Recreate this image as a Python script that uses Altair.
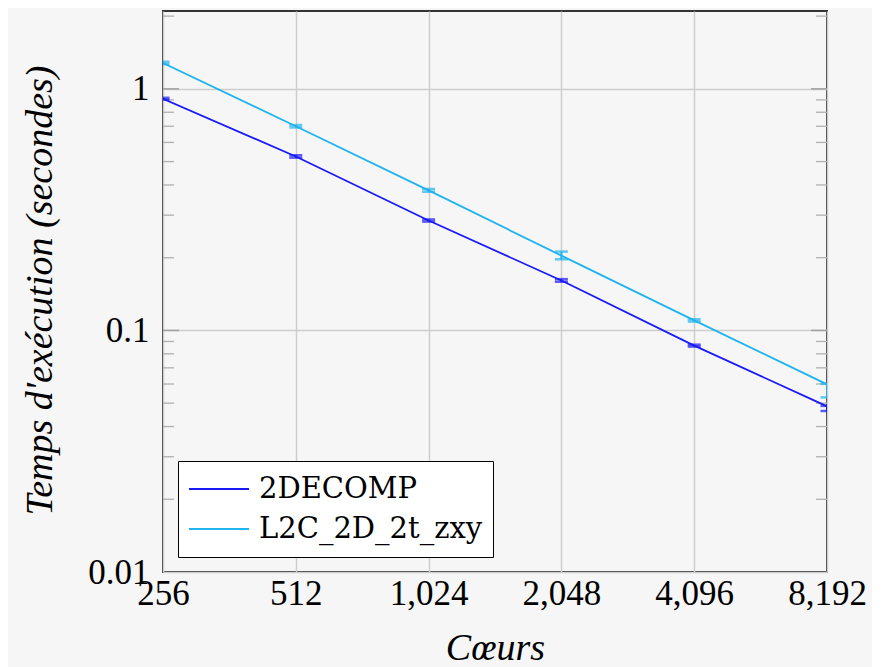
import altair as alt
import pandas as pd

cores = [256, 512, 1024, 2048, 4096, 8192]
series_names = ["2DECOMP", "L2C_2D_2t_zxy"]
decomp = [0.91, 0.525, 0.285, 0.161, 0.0865, 0.0485]
decomp_lo = [0.902, 0.519, 0.282, 0.159, 0.0857, 0.0464]
decomp_hi = [0.918, 0.531, 0.288, 0.163, 0.0873, 0.0487]
l2c = [1.28, 0.70, 0.38, 0.204, 0.110, 0.0598]
l2c_lo = [1.265, 0.692, 0.375, 0.197, 0.1088, 0.0528]
l2c_hi = [1.295, 0.708, 0.385, 0.212, 0.1112, 0.0601]
y_major = [0.01, 0.1, 1]
y_minor = [0.02, 0.03, 0.04, 0.05, 0.06, 0.07, 0.08, 0.09,
           0.2, 0.3, 0.4, 0.5, 0.6, 0.7, 0.8, 0.9, 2]
y_major_inner = [0.1, 1]

rows = []
for name, v, lo, hi in [(series_names[0], decomp, decomp_lo, decomp_hi),
                        (series_names[1], l2c, l2c_lo, l2c_hi)]:
    for c, a, b, d in zip(cores, v, lo, hi):
        rows.append({"series": name, "cores": c, "value": a, "lo": b, "hi": d})
df = pd.DataFrame(rows)
minor_df = pd.DataFrame({"v": y_minor})
major_df = pd.DataFrame({"v": y_major_inner})

W, H = 664, 561
SERIF = "Liberation Serif"
LEG_FONT = "DejaVu Serif"
COLORS = ["#1a1af8", "#1fb4ee"]

xscale = alt.Scale(type="log", base=2, domain=[256, 8192], nice=False)
yscale = alt.Scale(type="log", base=10, domain=[0.01, 2.1], nice=False)
color = alt.Color("series:N", scale=alt.Scale(domain=series_names, range=COLORS),
                  legend=None)

xaxis = alt.Axis(values=cores, format=",", title="Cœurs", labelFont=SERIF,
                 labelFontSize=35, labelPadding=4, labelFlush=False, tickSize=0,
                 domain=False, grid=True, gridColor="#cdcdcd", gridWidth=1.5,
                 titleFont=SERIF, titleFontSize=38, titleFontStyle="italic",
                 titleFontWeight="normal", titleBaseline="alphabetic", titleY=87,
                 labelColor="black", titleColor="black")
yaxis = alt.Axis(values=y_major, format="~g", title="Temps d'exécution (secondes)",
                 labelFont=SERIF, labelFontSize=35, labelPadding=14, labelFlush=False,
                 tickSize=0, domain=False, grid=True, gridColor="#cdcdcd", gridWidth=1.5,
                 titleFont=SERIF, titleFontSize=38, titleFontStyle="italic",
                 titleFontWeight="normal", titleAngle=270, titleX=-123, titleY=279,
                 titleAlign="center", titleBaseline="middle",
                 labelColor="black", titleColor="black")

base = alt.Chart(df)

lines = base.mark_line(strokeWidth=1.8, clip=True).encode(
    x=alt.X("cores:Q", scale=xscale, axis=xaxis),
    y=alt.Y("value:Q", scale=yscale, axis=yaxis),
    color=alt.Color("series:N", scale=alt.Scale(domain=series_names, range=COLORS),
                    legend=alt.Legend(orient="none", legendX=15, legendY=450, title=None,
                                      strokeColor="black", fillColor="white", padding=10,
                                      labelFont=LEG_FONT, labelFontSize=29, labelColor="black",
                                      symbolType="stroke", symbolSize=3600,
                                      symbolStrokeWidth=2, labelOffset=9, rowPadding=4,
                                      clipHeight=36, labelLimit=400)),
)

err_rule = base.mark_rule(strokeWidth=2, clip=True).encode(
    x=alt.X("cores:Q", scale=xscale),
    y=alt.Y("lo:Q", scale=yscale),
    y2="hi:Q",
    color=color,
)
cap_lo = base.mark_tick(orient="horizontal", size=13, thickness=2.5, clip=True).encode(
    x=alt.X("cores:Q", scale=xscale),
    y=alt.Y("lo:Q", scale=yscale),
    color=color,
)
cap_hi = base.mark_tick(orient="horizontal", size=13, thickness=2.5, clip=True).encode(
    x=alt.X("cores:Q", scale=xscale),
    y=alt.Y("hi:Q", scale=yscale),
    color=color,
)

minor_left = alt.Chart(minor_df).mark_rule(color="#b0b0b0", strokeWidth=1.3).encode(
    x=alt.value(0), x2=alt.value(11), y=alt.Y("v:Q", scale=yscale))
minor_right = alt.Chart(minor_df).mark_rule(color="#b0b0b0", strokeWidth=1.3).encode(
    x=alt.value(W - 11), x2=alt.value(W), y=alt.Y("v:Q", scale=yscale))
major_left = alt.Chart(major_df).mark_rule(color="#a0a0a0", strokeWidth=1.5).encode(
    x=alt.value(0), x2=alt.value(16), y=alt.Y("v:Q", scale=yscale))
major_right = alt.Chart(major_df).mark_rule(color="#a0a0a0", strokeWidth=1.5).encode(
    x=alt.value(W - 16), x2=alt.value(W), y=alt.Y("v:Q", scale=yscale))

chart = alt.layer(
    minor_left, minor_right, major_left, major_right,
    lines, err_rule, cap_lo, cap_hi,
).properties(
    width=W, height=H,
    autosize=alt.AutoSizeParams(type="none"),
    padding={"left": 155, "top": 3, "right": 45, "bottom": 96},
    background="#f6f6f6",
).configure_view(
    stroke="#333333", strokeWidth=2, fill=None,
)

chart.save("out.html", embed_options={"renderer": "svg", "actions": False})
